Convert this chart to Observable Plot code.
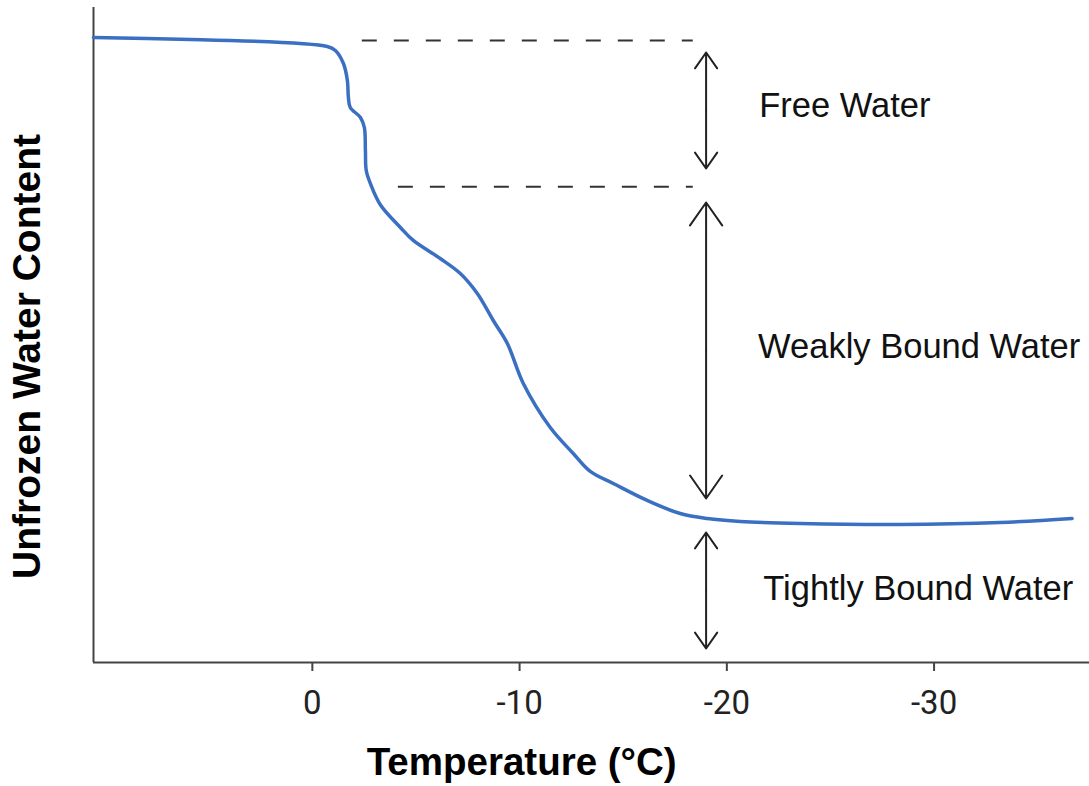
<!DOCTYPE html>
<html>
<head>
<meta charset="utf-8">
<script src="https://cdn.jsdelivr.net/npm/d3@7"></script>
<script src="https://cdn.jsdelivr.net/npm/@observablehq/plot@0.6"></script>
<style>
  html, body { margin: 0; padding: 0; background: #fff; }
  #chart svg { display: block; }
</style>
</head>
<body>
<div id="chart"></div>
<script>
// Curve: temperature (°C) vs unfrozen water content (relative units)
const temps = [10.56, -0.72, -1.11, -1.5, -1.69, -1.74, -1.83, -2.32, -2.51, -2.56, -2.6, -2.8, -3.28, -4.25, -4.87, -6.17, -7.14, -7.96, -8.73, -9.41, -10.18, -11.48, -12.59, -13.41, -14.52, -16.16, -17.75, -19.05, -20.65, -23.54, -28.36, -33.19, -36.66];
const water = [100.48, 99.04, 98.39, 96.3, 93.57, 90.84, 89.23, 87.62, 86.01, 82.32, 79.1, 77.01, 73.6, 69.94, 67.85, 64.95, 62.54, 59.32, 54.98, 51.29, 44.86, 37.78, 33.6, 30.71, 28.78, 26.05, 23.95, 23.15, 22.67, 22.35, 22.19, 22.51, 23.15];

// Axis ticks
const tickValues = [0, -10, -20, -30];
const tickLabels = ["0", "-10", "-20", "-30"];

// Dashed reference levels
const dashLevels = [100, 76.5];
const dashStart = [-2.41, -4.15];
const dashEnd = [-18.38, -18.38];

// Double arrows (bands)
const arrowTemp = -19.0;
const bandTop = [98.07, 73.95, 20.9];
const bandBottom = [79.42, 26.37, 2.25];

// Band labels
const bandNames = ["Free Water", "Weakly Bound Water", "Tightly Bound Water"];
const labelTemp = [-21.56, -21.51, -21.76];
const labelLevel = [89.47, 50.8, 11.82];

const xTitle = "Temperature (°C)";
const yTitle = "Unfrozen Water Content";
const xTitleTemp = -10.1;
const yTitleLevel = 49.2;

const xDomain = [10.56, -37.5];
const yDomain = [0, 105.3];

const curve = temps.map((t, i) => ({t, w: water[i]}));
const dashes = dashLevels.map((y, i) => ({y, x1: dashStart[i], x2: dashEnd[i]}));
const arrows = [];
bandTop.forEach((top, i) => {
  const mid = (top + bandBottom[i]) / 2;
  arrows.push({x: arrowTemp, y1: mid, y2: top});
  arrows.push({x: arrowTemp, y1: mid, y2: bandBottom[i]});
});
const labels = bandNames.map((name, i) => ({name, x: labelTemp[i], y: labelLevel[i]}));
const tickMap = new Map(tickValues.map((v, i) => [v, tickLabels[i]]));

const chart = Plot.plot({
  width: 1089,
  height: 786,
  marginLeft: 93,
  marginRight: 0,
  marginTop: 7,
  marginBottom: 124,
  style: {background: "#fff", color: "#222"},
  x: {domain: xDomain, axis: null},
  y: {domain: yDomain, axis: null},
  marks: [
    Plot.axisX({
      ticks: tickValues,
      tickFormat: d => tickMap.get(d),
      tickSize: 9,
      tickPadding: 19,
      fontSize: 33,
      fontFamily: "Roboto",
      stroke: "#444",
      strokeWidth: 2,
      label: null
    }),
    Plot.ruleX([xDomain[0]], {stroke: "#444", strokeWidth: 2}),
    Plot.ruleY([yDomain[0]], {stroke: "#444", strokeWidth: 2}),
    Plot.ruleY(dashes, {y: "y", x1: "x1", x2: "x2", stroke: "#333", strokeWidth: 2, strokeDasharray: "15,17"}),
    Plot.line(curve, {x: "t", y: "w", stroke: "#3a6fc2", strokeWidth: 3.5, curve: "catmull-rom"}),
    Plot.arrow(arrows, {x1: "x", x2: "x", y1: "y1", y2: "y2", stroke: "#222", strokeWidth: 2, headLength: 21, headAngle: 70}),
    Plot.text(labels, {x: "x", y: "y", text: "name", textAnchor: "start", lineAnchor: "middle", fontSize: 34.5, fontFamily: "Liberation Sans", fill: "#111"}),
    Plot.text([xTitle], {x: () => xTitleTemp, text: d => d, frameAnchor: "bottom", dy: 100, textAnchor: "middle", lineAnchor: "middle", fontSize: 38.5, fontWeight: "bold", fontFamily: "Liberation Sans", fill: "#000"}),
    Plot.text([yTitle], {y: () => yTitleLevel, text: d => d, frameAnchor: "left", dx: -66, rotate: -90, textAnchor: "middle", lineAnchor: "middle", fontSize: 39, fontWeight: "bold", fontFamily: "Liberation Sans", fill: "#000"})
  ]
});
document.getElementById("chart").appendChild(chart);
</script>
</body>
</html>
